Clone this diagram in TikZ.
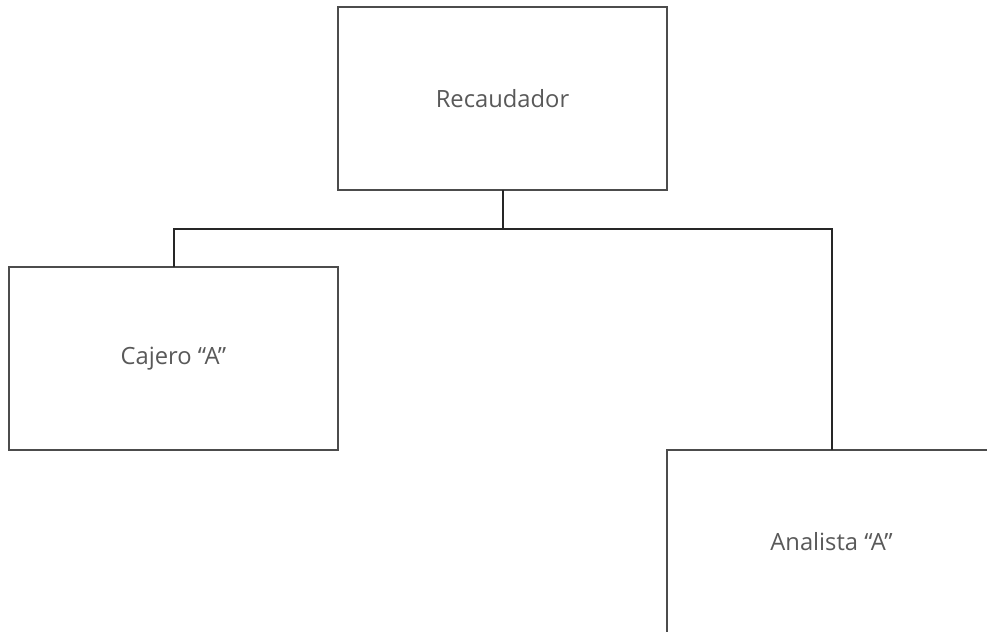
\documentclass[tikz,border=0pt]{standalone}
\usepackage{fontspec}
\setmainfont{Open Sans}
\usetikzlibrary{positioning,calc}

\begin{document}
\begin{tikzpicture}[
        x=0.75pt, y=-0.75pt,
        node distance=57.75pt and 0pt,
        box/.style={draw=black!70, line width=0.9pt, minimum width=246.75pt, minimum height=137.25pt, inner sep=0pt, outer sep=0pt, font=\fontsize{17.8}{20}\selectfont, text=black!65},
        link/.style={draw=black!85, line width=1.5pt}
    ]
        % frame of the page
        \clip (0,0) rectangle (987,631);
        \fill[white] (0,0) rectangle (987,631);

        % Boxes
        \node[box] (rec) at (502.5,98.5) {Recaudador};
        \node[box, below left=of rec.south west, anchor=north east] (caj) {Cajero ``A''};
        \node[box, anchor=north west] (ana) at (rec.east |- caj.south) {Analista ``A''};

        % Lines
        \draw[link] (rec.south) -- ++(0,39) coordinate (bus);
        \draw[link] (caj.north) |- (bus) -| (ana.north);
    \end{tikzpicture}
\end{document}
